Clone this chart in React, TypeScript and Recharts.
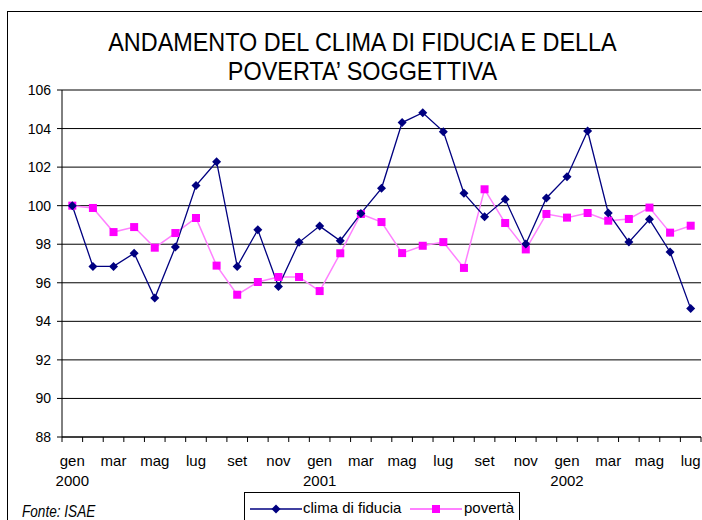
import React from 'react';
import { LineChart, Line, XAxis, YAxis, CartesianGrid } from 'recharts';

// monthly series, gen 2000 .. lug 2002
const months = [
  'gen', 'feb', 'mar', 'apr', 'mag', 'giu', 'lug', 'ago', 'set', 'ott', 'nov', 'dic',
  'gen', 'feb', 'mar', 'apr', 'mag', 'giu', 'lug', 'ago', 'set', 'ott', 'nov', 'dic',
  'gen', 'feb', 'mar', 'apr', 'mag', 'giu', 'lug',
];
const years = [
  '2000', '', '', '', '', '', '', '', '', '', '', '',
  '2001', '', '', '', '', '', '', '', '', '', '', '',
  '2002', '', '', '', '', '', '',
];
const clima = [
  100.0, 96.85, 96.85, 97.53, 95.21, 97.86, 101.04, 102.28, 96.85, 98.75, 95.81, 98.1,
  98.94, 98.18, 99.6, 100.9, 104.31, 104.82, 103.84, 100.64, 99.43, 100.33, 98.01, 100.4,
  101.5, 103.87, 99.62, 98.11, 99.29, 97.6, 94.66,
];
const poverta = [
  100.0, 99.88, 98.63, 98.89, 97.82, 98.58, 99.36, 96.89, 95.38, 96.04, 96.3, 96.3,
  95.57, 97.53, 99.57, 99.15, 97.54, 97.92, 98.11, 96.77, 100.85, 99.1, 97.73, 99.57,
  99.38, 99.62, 99.22, 99.31, 99.9, 98.6, 98.96,
];
const yTicks = [88, 90, 92, 94, 96, 98, 100, 102, 104, 106];

const W = 702;
const H = 520;
const M = { top: 90, right: 1, bottom: 0, left: 0 };
const Y_W = 62;
const X_H = 83;
const BAND = (W - M.left - M.right - Y_W) / months.length;
const FONT = '"Liberation Sans", Arial, sans-serif';

const data = months.map((m, i) => ({
  month: m,
  year: years[i],
  clima: clima[i],
  poverta: poverta[i],
}));

const Diamond = (props: any) => {
  const { cx, cy } = props;
  if (cx == null || cy == null) return null;
  return <polygon points={`${cx},${cy - 4.5} ${cx + 4.5},${cy} ${cx},${cy + 4.5} ${cx - 4.5},${cy}`} fill="#000080" />;
};

const Square = (props: any) => {
  const { cx, cy } = props;
  if (cx == null || cy == null) return null;
  return <rect x={cx - 4} y={cy - 4} width={8} height={8} fill="#ff00ff" />;
};

const MonthTick = (props: any) => {
  const { x, y, index } = props;
  const d = data[index];
  const left = x - BAND / 2;
  return (
    <g>
      <line x1={left} y1={y} x2={left} y2={y + 5} stroke="#000" />
      {index === data.length - 1 && <line x1={x + BAND / 2} y1={y} x2={x + BAND / 2} y2={y + 5} stroke="#000" />}
      {index % 2 === 0 && (
        <text x={x} y={y + 29} textAnchor="middle" fontSize={15} fontFamily={FONT} fill="#000">{d.month}</text>
      )}
      {d.year && (
        <text x={x} y={y + 49} textAnchor="middle" fontSize={15} fontFamily={FONT} fill="#000">{d.year}</text>
      )}
    </g>
  );
};

export default function App() {
  return (
    <div style={{ position: 'fixed', left: 0, top: 0, width: W, height: H, overflow: 'hidden', background: '#fff' }}>
      <div style={{ position: 'absolute', left: 7, top: 11, width: 720, height: 540, border: '1.5px solid #000' }} />
      <div style={{ position: 'absolute', left: 0, top: 28, width: 725, textAlign: 'center', fontFamily: FONT, fontSize: 26, lineHeight: '29px', color: '#000', transform: 'scaleX(0.9)', transformOrigin: '362px 0' }}>
        ANDAMENTO DEL CLIMA DI FIDUCIA E DELLA<br />POVERTA’ SOGGETTIVA
      </div>
      <div style={{ position: 'absolute', left: 0, top: 0 }}>
        <LineChart width={W} height={H} data={data} margin={M}>
          <CartesianGrid vertical={false} stroke="#000" strokeWidth={1} />
          <XAxis
            dataKey="month"
            interval={0}
            height={X_H}
            padding={{ left: BAND / 2, right: BAND / 2 }}
            tickSize={0}
            tickMargin={0}
            tickLine={false}
            axisLine={{ stroke: '#000' }}
            tick={<MonthTick />}
          />
          <XAxis xAxisId="top" dataKey="month" orientation="top" height={0} tick={false} tickLine={false} axisLine={{ stroke: '#999' }} />
          <YAxis
            domain={[88, 106]}
            ticks={yTicks}
            width={Y_W}
            tickSize={5}
            tickMargin={6}
            axisLine={{ stroke: '#000' }}
            tickLine={{ stroke: '#000' }}
            tick={{ fill: '#000', fontSize: 14, fontFamily: FONT }}
          />
          <YAxis yAxisId="right" orientation="right" width={0} domain={[88, 106]} tick={false} tickLine={false} axisLine={{ stroke: '#999' }} />
          <Line dataKey="poverta" stroke="#ff80ff" strokeWidth={1.5} dot={<Square />} isAnimationActive={false} />
          <Line dataKey="clima" stroke="#000080" strokeWidth={1.3} dot={<Diamond />} isAnimationActive={false} />
        </LineChart>
      </div>
      <div style={{ position: 'absolute', left: 22, top: 503, fontFamily: FONT, fontStyle: 'italic', fontSize: 16, color: '#000', transform: 'scaleX(0.85)', transformOrigin: '0 0' }}>
        Fonte: ISAE
      </div>
      <div style={{ position: 'absolute', left: 244, top: 492, width: 274, height: 40, border: '1px solid #000', background: '#fff', fontFamily: FONT, fontSize: 15, color: '#000' }}>
        <svg width={60} height={20} style={{ position: 'absolute', left: 5, top: 6 }}>
          <line x1={0} y1={10} x2={52} y2={10} stroke="#000080" strokeWidth={1.3} />
          <polygon points="26,5.5 30.5,10 26,14.5 21.5,10" fill="#000080" />
        </svg>
        <span style={{ position: 'absolute', left: 58, top: 6 }}>clima di fiducia</span>
        <svg width={56} height={20} style={{ position: 'absolute', left: 165, top: 6 }}>
          <line x1={0} y1={10} x2={52} y2={10} stroke="#ff80ff" strokeWidth={2} />
          <rect x={22} y={6} width={8} height={8} fill="#ff00ff" />
        </svg>
        <span style={{ position: 'absolute', left: 219, top: 6 }}>povertà</span>
      </div>
    </div>
  );
}
